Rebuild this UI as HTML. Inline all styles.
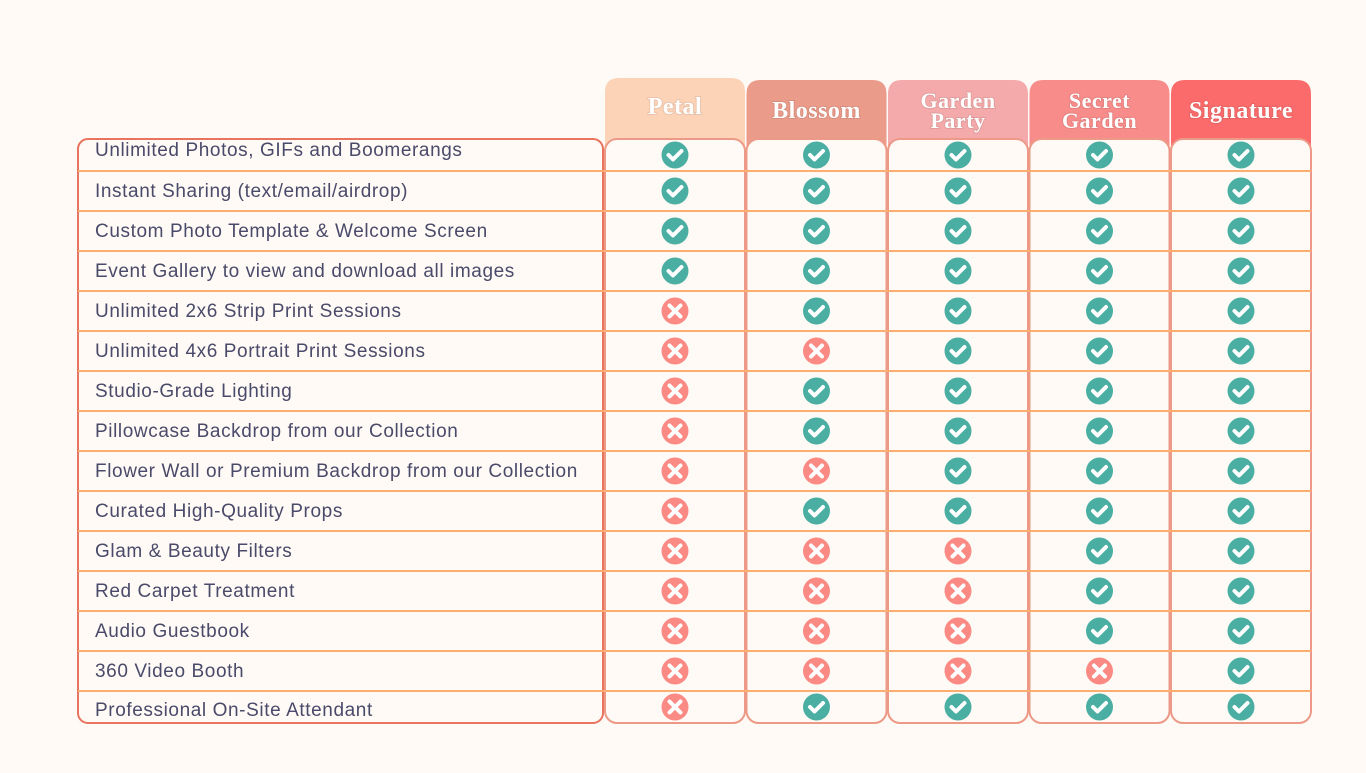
<!DOCTYPE html>
<html><head><meta charset="utf-8"><style>
body{margin:0;width:1366px;height:768px;background:#fffaf5;overflow:hidden;font-family:"Liberation Sans",sans-serif}
</style></head><body>
<svg width="1366" height="768" id="svg"></svg>
<script>
const features=["Unlimited Photos, GIFs and Boomerangs","Instant Sharing (text/email/airdrop)","Custom Photo Template & Welcome Screen","Event Gallery to view and download all images","Unlimited 2x6 Strip Print Sessions","Unlimited 4x6 Portrait Print Sessions","Studio-Grade Lighting","Pillowcase Backdrop from our Collection","Flower Wall or Premium Backdrop from our Collection","Curated High-Quality Props","Glam & Beauty Filters","Red Carpet Treatment","Audio Guestbook","360 Video Booth","Professional On-Site Attendant"];
const packages=[["Petal"],["Blossom"],["Garden","Party"],["Secret","Garden"],["Signature"]];
const petal=[1,1,1,1,0,0,0,0,0,0,0,0,0,0,0];
const blossom=[1,1,1,1,1,0,1,1,0,1,0,0,0,0,1];
const garden=[1,1,1,1,1,1,1,1,1,1,0,0,0,0,1];
const secret=[1,1,1,1,1,1,1,1,1,1,1,1,1,0,1];
const signature=[1,1,1,1,1,1,1,1,1,1,1,1,1,1,1];
const series=[petal,blossom,garden,secret,signature];
const headColors=["#fdd3b8","#eb9b8a","#f4aaaa","#f88c8a","#fb6b6b"];
const svg=document.getElementById('svg');const NS="http://www.w3.org/2000/svg";
function mk(t,a,p){const e=document.createElementNS(NS,t);for(const k in a)e.setAttribute(k,a[k]);(p||svg).appendChild(e);return e;}
const colX=i=>605+i*141.5, colW=140;
const rowTop=r=>r===0?139:171+(r-1)*40;
const rowBot=r=>r===14?723:171+r*40;
const rowC=r=>(rowTop(r)+rowBot(r))/2;
const textC=r=>r===0?150:(r===14?710:rowC(r));
packages.forEach((p,i)=>{
 const x=colX(i),top=i===0?78:80;
 const g=mk('g',{});
 mk('path',{d:`M${x} 146 V${top+14} Q${x} ${top} ${x+14} ${top} H${x+colW-14} Q${x+colW} ${top} ${x+colW} ${top+14} V146 Z`,fill:headColors[i]},g);
 p.forEach((w,j)=>{const y=p.length===1?(i===0?114:118):(108+j*20);
  const t=mk('text',{x:x+colW/2,y:y,'text-anchor':'middle',fill:'#fff','font-family':'"Liberation Serif",serif','font-weight':'bold','font-size':p.length===1?24:22,style:'paint-order:stroke;stroke:rgba(0,0,0,0.08);stroke-width:2px;letter-spacing:0.5px'},g);t.textContent=w;});
});
packages.forEach((p,i)=>{const r=mk('rect',{x:colX(i),y:139,width:colW,height:584,rx:12,fill:'#fffaf5',stroke:'#ec9a87','stroke-width':2});
 });
const lb=mk('rect',{x:78,y:139,width:525,height:584,rx:10,fill:'none',stroke:'#e8735f','stroke-width':2});

for(let r=0;r<14;r++){const l=mk('line',{x1:78,x2:1311,y1:rowBot(r),y2:rowBot(r),stroke:'#fbae70','stroke-width':2});
 }
features.forEach((f,r)=>{const t=mk('text',{x:95,y:textC(r)+6,fill:'#4a4a6a','font-size':19,'letter-spacing':'0.6'});t.textContent=f;
 });
series.forEach((s,i)=>s.forEach((v,r)=>{
 const cx=colX(i)+colW/2,cy=rowC(r);const g=mk('g',{});
 
 mk('circle',{cx,cy,r:13.5,fill:v?'#4aaea3':'#fb8a85'},g);
 if(v)mk('path',{d:`M${cx-6.5} ${cy} L${cx-2} ${cy+4.5} L${cx+6.5} ${cy-4}`,stroke:'#fff','stroke-width':4,fill:'none','stroke-linecap':'round','stroke-linejoin':'round'},g);
 else mk('path',{d:`M${cx-5.5} ${cy-5.5} L${cx+5.5} ${cy+5.5} M${cx+5.5} ${cy-5.5} L${cx-5.5} ${cy+5.5}`,stroke:'#fff','stroke-width':4,'stroke-linecap':'round'},g);
}));
</script></body></html>
